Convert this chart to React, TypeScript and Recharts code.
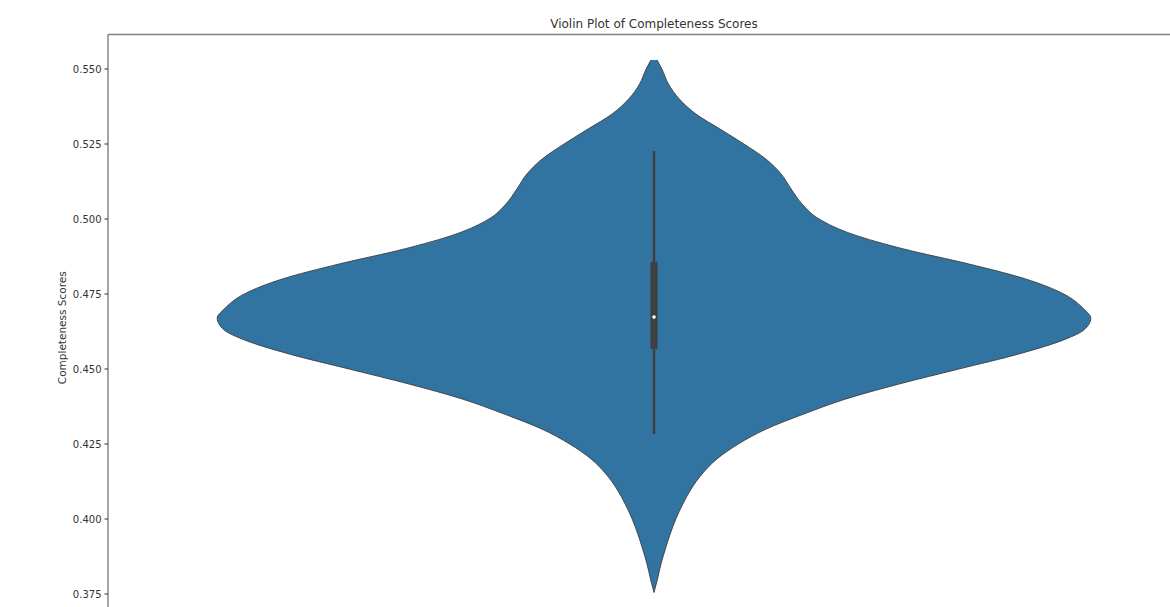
import React from 'react';
import {
  ComposedChart,
  Area,
  XAxis,
  YAxis,
  ReferenceLine,
  ReferenceDot
} from 'recharts';

// score levels along the violin (top to bottom) and the relative density at each
const scoreLevels = [
  0.553, 0.55, 0.545, 0.54, 0.535, 0.53, 0.525, 0.52, 0.515, 0.51, 0.505, 0.5,
  0.495, 0.49, 0.485, 0.48, 0.475, 0.47, 0.467, 0.463, 0.46, 0.455, 0.45, 0.445,
  0.44, 0.435, 0.43, 0.425, 0.42, 0.415, 0.41, 0.405, 0.4, 0.395, 0.39, 0.385,
  0.38, 0.3755
];
const densityValues = [
  0.007, 0.018, 0.033, 0.058, 0.096, 0.151, 0.206, 0.256, 0.291, 0.314, 0.339, 0.378,
  0.453, 0.572, 0.721, 0.851, 0.938, 0.984, 1.0, 0.984, 0.943, 0.835, 0.698, 0.561,
  0.439, 0.343, 0.257, 0.193, 0.144, 0.11, 0.085, 0.066, 0.05, 0.037, 0.026, 0.016,
  0.008, 0.0
];

// inner box plot
const whiskerRange = [0.4283, 0.5227];
const quartileRange = [0.4567, 0.4857];
const medianScore = 0.4673;

const yTicks = [0.375, 0.4, 0.425, 0.45, 0.475, 0.5, 0.525, 0.55];
const yDomain = [0.366, 0.5615];

const violinRows = scoreLevels.map((score, i) => ({
  score,
  range: [-densityValues[i], densityValues[i]]
}));

const FONT = '"DejaVu Sans", sans-serif';
const SPINE = '#7f7f7f';
const INNER = '#3f3f3f';

const YLabel = (props: any) => {
  const { viewBox } = props;
  const x = viewBox.x + 54;
  const y = viewBox.y + viewBox.height / 2;
  return (
    <text
      x={x}
      y={y}
      transform={`rotate(-90, ${x}, ${y})`}
      textAnchor="middle"
      dominantBaseline="central"
      fontFamily={FONT}
      fontSize={10.5}
      fill="#333"
    >
      Completeness Scores
    </text>
  );
};

const App = () => {
  return (
    <div
      style={{
        position: 'fixed',
        left: 0,
        top: 0,
        width: 1170,
        height: 607,
        overflow: 'hidden',
        background: '#fff'
      }}
    >
      <div style={{ position: 'absolute', left: 8, top: 8 }}>
        <div
          style={{
            position: 'absolute',
            top: 10,
            left: 100,
            width: 1092,
            textAlign: 'center',
            fontFamily: FONT,
            fontSize: 12,
            lineHeight: '12px',
            color: '#333',
            whiteSpace: 'nowrap'
          }}
        >
          Violin Plot of Completeness Scores
        </div>
        <ComposedChart
          width={1192}
          height={613}
          data={violinRows}
          layout="vertical"
          margin={{ top: 26.5, right: 0, bottom: 0, left: 0 }}
        >
          <XAxis type="number" domain={[-1.25, 1.25]} hide />
          <YAxis
            type="number"
            dataKey="score"
            domain={yDomain}
            reversed
            ticks={yTicks}
            width={100}
            tickFormatter={(v: number) => v.toFixed(3)}
            tick={{ fontFamily: FONT, fontSize: 10, fill: '#333' }}
            tickSize={3.5}
            tickMargin={3}
            tickLine={{ stroke: '#333' }}
            axisLine={{ stroke: SPINE, strokeWidth: 1.4 }}
            label={{ content: YLabel }}
          />
          {/* top spine of the axes frame */}
          <ReferenceLine y={yDomain[1]} stroke={SPINE} strokeWidth={1.4} />
          <Area
            dataKey="range"
            type="monotone"
            fill="#3274a1"
            fillOpacity={1}
            stroke="#3d3d3d"
            strokeWidth={0.9}
            dot={false}
            activeDot={false}
            isAnimationActive={false}
          />
          <ReferenceLine
            segment={[{ x: 0, y: whiskerRange[0] }, { x: 0, y: whiskerRange[1] }]}
            stroke={INNER}
            strokeWidth={2.5}
          />
          <ReferenceLine
            segment={[{ x: 0, y: quartileRange[0] }, { x: 0, y: quartileRange[1] }]}
            stroke={INNER}
            strokeWidth={7}
          />
          <ReferenceDot x={0} y={medianScore} r={1.8} fill="#ffffff" stroke="none" />
        </ComposedChart>
      </div>
    </div>
  );
};

export default App;
